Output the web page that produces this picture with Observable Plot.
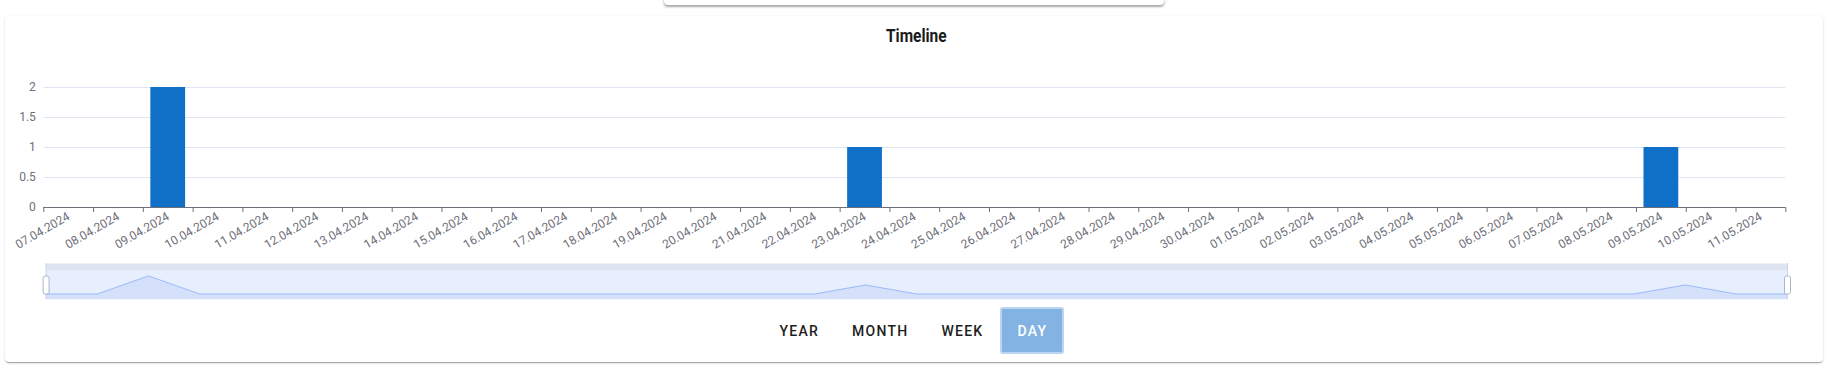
<!DOCTYPE html>
<html>
<head>
<meta charset="utf-8">
<script src="https://cdn.jsdelivr.net/npm/d3@7"></script>
<script src="https://cdn.jsdelivr.net/npm/@observablehq/plot@0.6"></script>
<style>
html,body{margin:0;padding:0;background:#fff;width:1832px;height:372px;overflow:hidden;font-family:Roboto,"Noto Sans",sans-serif;}
#popup{position:absolute;left:664px;top:-20px;width:500px;height:25px;background:#fff;border-radius:4px;box-shadow:0 2px 2px rgba(0,0,0,.28),0 1px 4px rgba(0,0,0,.12);}
#card{position:absolute;left:5px;top:16px;width:1818px;height:346px;background:#fff;border-radius:4px;box-shadow:0 2px 1px -1px rgba(0,0,0,.2),0 1px 1px 0 rgba(0,0,0,.14),0 1px 3px 0 rgba(0,0,0,.12);}
#title{position:absolute;left:0;width:1832px;top:25px;text-align:center;font-weight:bold;font-size:18px;line-height:22px;color:#1b1b1b;font-family:Roboto,sans-serif;}
#title span{display:inline-block;transform:scaleX(.86);}
#chart{position:absolute;left:0;top:50px;}
#slider{position:absolute;left:0;top:255px;}
#buttons{position:absolute;left:-2px;width:1832px;top:307px;display:flex;justify-content:center;gap:1px;}
#buttons button{height:47px;min-width:64px;box-sizing:border-box;padding:0 14px;border:2px solid transparent;border-radius:3px;background:transparent;font-family:Roboto,sans-serif;font-weight:500;font-size:14px;letter-spacing:1.25px;color:#1e1e1e;}
#buttons button.active{background:#82b3e3;border-color:#b9d5f1;color:#fff;}
</style>
</head>
<body>
<div id="popup"></div>
<div id="card"></div>
<div id="title"><span>Timeline</span></div>
<div id="chart"></div>
<div id="slider"></div>
<div id="buttons"></div>
<script>
const dates = [
  "07.04.2024","08.04.2024","09.04.2024","10.04.2024","11.04.2024","12.04.2024","13.04.2024",
  "14.04.2024","15.04.2024","16.04.2024","17.04.2024","18.04.2024","19.04.2024","20.04.2024",
  "21.04.2024","22.04.2024","23.04.2024","24.04.2024","25.04.2024","26.04.2024","27.04.2024",
  "28.04.2024","29.04.2024","30.04.2024","01.05.2024","02.05.2024","03.05.2024","04.05.2024",
  "05.05.2024","06.05.2024","07.05.2024","08.05.2024","09.05.2024","10.05.2024","11.05.2024"
];
const counts = [
  0,0,2,0,0,0,0,
  0,0,0,0,0,0,0,
  0,0,1,0,0,0,0,
  0,0,0,0,0,0,0,
  0,0,0,0,1,0,0
];
const yTicks = [0, 0.5, 1, 1.5, 2];
const buttonLabels = ["YEAR", "MONTH", "WEEK", "DAY"];
const activeButton = "DAY";

const data = dates.map((d, i) => ({date: d, count: counts[i]}));

const W = 1832, mL = 43.3, mR = 46.7;
const bw = (W - mL - mR) / dates.length;

const chart = Plot.plot({
  width: W, height: 210,
  marginLeft: mL, marginRight: mR, marginTop: 37, marginBottom: 53,
  style: {fontFamily: "Roboto, sans-serif", fontSize: "12px", color: "#6E7079", background: "transparent", overflow: "visible"},
  x: {type: "band", domain: dates, padding: 0, round: false},
  y: {domain: [0, 2]},
  marks: [
    Plot.gridY(yTicks.filter(t => t > 0), {stroke: "#E0E6F1", strokeOpacity: 1}),
    Plot.barY(data, {x: "date", y: "count", fill: "#1070c8", insetLeft: 7.5, insetRight: 7.5}),
    Plot.ruleY([0], {stroke: "#6E7079"}),
    Plot.axisY(yTicks, {tickSize: 0, tickPadding: 8, label: null, fill: "#6E7079", tickFormat: d => String(d)}),
    Plot.axisX({tickSize: 0, tickPadding: 8, tickRotate: -30, label: null, fill: "#6E7079"}),
    Plot.axisX(dates, {tickSize: 5, tickFormat: () => "", dx: -bw / 2, stroke: "#6E7079", label: null}),
    Plot.axisX([dates[dates.length - 1]], {tickSize: 5, tickFormat: () => "", dx: bw / 2, stroke: "#6E7079", label: null})
  ]
});
document.getElementById("chart").append(chart);

// slider (data zoom) with data shadow
const ext = d3.extent(counts);
const pad = (ext[1] - ext[0]) * 0.3;
const sliderY = [ext[0] - pad, ext[1] + pad];
const handle = {
  draw(ctx) {
    const w = 6, h = 18, r = 2, x0 = -w / 2, y0 = -h / 2;
    ctx.moveTo(x0 + r, y0);
    ctx.lineTo(x0 + w - r, y0);
    ctx.arcTo(x0 + w, y0, x0 + w, y0 + r, r);
    ctx.lineTo(x0 + w, y0 + h - r);
    ctx.arcTo(x0 + w, y0 + h, x0 + w - r, y0 + h, r);
    ctx.lineTo(x0 + r, y0 + h);
    ctx.arcTo(x0, y0 + h, x0, y0 + h - r, r);
    ctx.lineTo(x0, y0 + r);
    ctx.arcTo(x0, y0, x0 + r, y0, r);
    ctx.closePath();
  }
};
const ends = [dates[0], dates[dates.length - 1]];
const slider = Plot.plot({
  width: W, height: 50,
  marginLeft: 45.6, marginRight: 45, marginTop: 15, marginBottom: 6,
  style: {background: "transparent", overflow: "visible"},
  x: {type: "point", domain: dates, padding: 0, round: false, axis: null},
  y: {domain: sliderY, axis: null},
  marks: [
    Plot.frame({fill: "#e7eefd", stroke: "none"}),
    Plot.frame({fill: "#dee4f2", stroke: "none", insetTop: -7, insetBottom: 29}),
    Plot.areaY(data, {x: "date", y1: sliderY[0], y2: "count", fill: "#8FB0F7", fillOpacity: 0.2}),
    Plot.lineY(data, {x: "date", y: "count", stroke: "#8FB0F7", strokeWidth: 0.8}),
    Plot.ruleX(ends, {stroke: "#c9d3ea", insetTop: -7}),
    Plot.dot(ends, {x: d => d, frameAnchor: "middle", symbol: handle, fill: "#fff", stroke: "#aab6cd", strokeWidth: 1, r: 5})
  ]
});
document.getElementById("slider").append(slider);

const btns = document.getElementById("buttons");
for (const b of buttonLabels) {
  const el = document.createElement("button");
  el.textContent = b;
  if (b === activeButton) el.className = "active";
  btns.append(el);
}
</script>
</body>
</html>
